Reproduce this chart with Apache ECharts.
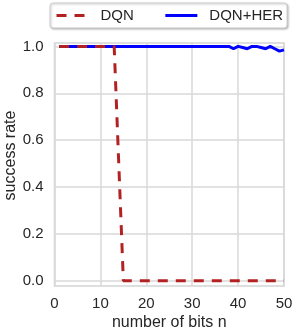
<!DOCTYPE html>
<html>
<head>
<meta charset="utf-8">
<script src="https://cdn.jsdelivr.net/npm/echarts@6/dist/echarts.min.js"></script>
<style>html,body{margin:0;padding:0;background:#fff}#c{width:294px;height:332px}</style>
</head>
<body>
<div id="c"></div>
<script>
var bits = [];
for (var i = 1; i <= 50; i++) bits.push(i);
var dqn = [1,1,1,1,1,1,1,1,1,1,1,1,1,0.5,0,0,0,0,0,0,0,0,0,0,0,0,0,0,0,0,0,0,0,0,0,0,0,0,0,0,0,0,0,0,0,0,0,0,0,0];
var dqnHer = [1,1,1,1,1,1,1,1,1,1,1,1,1,1,1,1,1,1,1,1,1,1,1,1,1,1,1,1,1,1,1,1,1,1,1,1,1,1,0.99,1,0.995,0.99,1,1,0.995,0.99,1,0.99,0.98,0.985];
var yTicks = [0, 0.2, 0.4, 0.6, 0.8, 1.0];
var xTicks = [0, 10, 20, 30, 40, 50];

function pairs(xs, ys){ return xs.map(function(x,i){return [x, ys[i]];}); }

var chart = echarts.init(document.getElementById('c'), null, {renderer:'canvas'});
var font = 'Liberation Sans, Arial, sans-serif';
chart.setOption({
  animation: false,
  backgroundColor: '#fff',
  textStyle: {fontFamily: font},
  legend: {
    left: 50, top: 3,
    padding: [5, 4, 5, 5],
    itemGap: 30,
    itemWidth: 32, itemHeight: 14,
    borderColor: '#cccccc', borderWidth: 1, borderRadius: 3,
    backgroundColor: '#fff',
    shadowColor: 'rgba(0,0,0,0.25)', shadowBlur: 2, shadowOffsetX: 1, shadowOffsetY: 1,
    itemStyle: {opacity: 0},
    lineStyle: {width: 3},
    textStyle: {fontSize: 15, color: '#262626', fontFamily: font, padding: [0,0,0,7]},
    data: ['DQN', 'DQN+HER']
  },
  grid: {
    left: 54.5, right: 10, top: 43, bottom: 46,
    show: true, borderColor: '#d4d4d4', borderWidth: 1.5,
    containLabel: false, outerBoundsMode: 'none'
  },
  xAxis: {
    type: 'value', min: 0, max: 50, interval: 10,
    name: 'number of bits n', nameLocation: 'middle', nameGap: 29, nameMoveOverlap: false,
    nameTextStyle: {fontSize: 16, color: '#262626', fontFamily: font},
    axisLine: {show: false}, axisTick: {show: false},
    axisLabel: {fontSize: 15, color: '#262626', margin: 10, fontFamily: font,
      customValues: xTicks},
    splitLine: {show: true, lineStyle: {color: '#d8d8d8', width: 1.5}}
  },
  yAxis: {
    type: 'value', min: -0.0226, max: 1.0145,
    name: 'success rate', nameLocation: 'middle', nameGap: 36, nameMoveOverlap: false,
    nameTextStyle: {fontSize: 16, color: '#262626', fontFamily: font, padding: [0,0,0,18]},
    axisLine: {show: false},
    axisTick: {show: false, customValues: yTicks},
    axisLabel: {fontSize: 15, color: '#262626', margin: 11, fontFamily: font,
      customValues: yTicks,
      formatter: function(v){ return (Math.round(v*10)/10).toFixed(1); }},
    splitLine: {show: true, lineStyle: {color: '#d8d8d8', width: 1.5}}
  },
  series: [
    {
      name: 'DQN+HER', type: 'line', data: pairs(bits, dqnHer),
      showSymbol: false, symbol: 'none', z: 2,
      lineStyle: {color: '#0000ff', width: 3},
      itemStyle: {color: '#0000ff'}
    },
    {
      name: 'DQN', type: 'line', data: pairs(bits, dqn),
      showSymbol: false, symbol: 'none', z: 3,
      lineStyle: {color: '#b22222', width: 3, type: [10, 8]},
      itemStyle: {color: '#b22222'}
    }
  ]
});
</script>
</body>
</html>
